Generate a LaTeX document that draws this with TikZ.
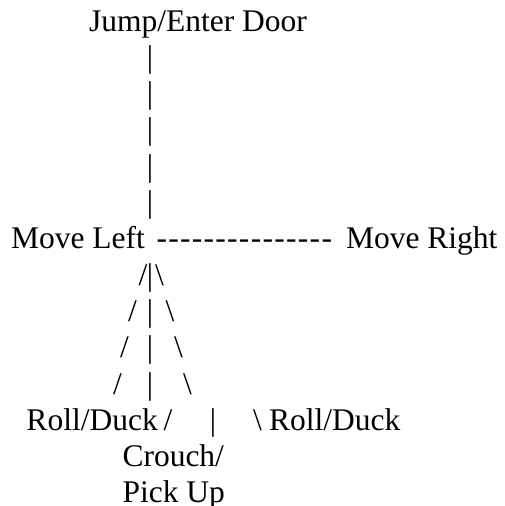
\documentclass[tikz,border=0pt]{standalone}
\usepackage{fontspec}
\setmainfont{Liberation Serif}
\newcommand\hy{-\kern1.3pt}
\begin{document}
\begin{tikzpicture}[x=1pt,y=-1pt,
  txt/.style={inner sep=0pt,outer sep=0pt,anchor=base west,font=\fontsize{31.5}{36}\selectfont},
  gly/.style={inner sep=0pt,outer sep=0pt,anchor=base,font=\fontsize{31.5}{36}\selectfont}]
\useasboundingbox (0,0) rectangle (505,506);
\node[txt] (jump) at (89,31) {Jump/Enter Door};
\node[gly] (v1) at (150,67.3) {|};
\node[gly] (v2) at (150,103.6) {|};
\node[gly] (v3) at (150,139.9) {|};
\node[gly] (v4) at (150,176.2) {|};
\node[gly] (v5) at (150,212.5) {|};
\node[txt] (left) at (11,248.8) {Move Left};
\node[txt] (dash) at (156.5,248.8) {\hy\hy\hy\hy\hy\hy\hy\hy\hy\hy\hy\hy\hy\hy\hy};
\node[txt] (right) at (346,248.8) {Move Right};
\node[gly] (a1) at (143,285.1) {/};
\node[gly] (b1) at (150,285.1) {|};
\node[gly] (c1) at (159.5,285.1) {\textbackslash};
\node[gly] (a2) at (132.5,321.4) {/};
\node[gly] (b2) at (150,321.4) {|};
\node[gly] (c2) at (170,321.4) {\textbackslash};
\node[gly] (a3) at (124.5,357.7) {/};
\node[gly] (b3) at (150,357.7) {|};
\node[gly] (c3) at (178.5,357.7) {\textbackslash};
\node[gly] (a4) at (117.5,394) {/};
\node[gly] (b4) at (150,394) {|};
\node[gly] (c4) at (187.5,394) {\textbackslash};
\node[txt] (rollL) at (26.5,430.3) {Roll/Duck};
\node[gly] (a5) at (168,430.3) {/};
\node[gly] (b5) at (213,430.3) {|};
\node[gly] (c5) at (257.5,430.3) {\textbackslash};
\node[txt] (rollR) at (269,430.3) {Roll/Duck};
\node[txt] (crouch) at (122.5,466.6) {Crouch/};
\node[txt] (pick) at (122.5,502.9) {Pick Up};
\end{tikzpicture}
\end{document}
